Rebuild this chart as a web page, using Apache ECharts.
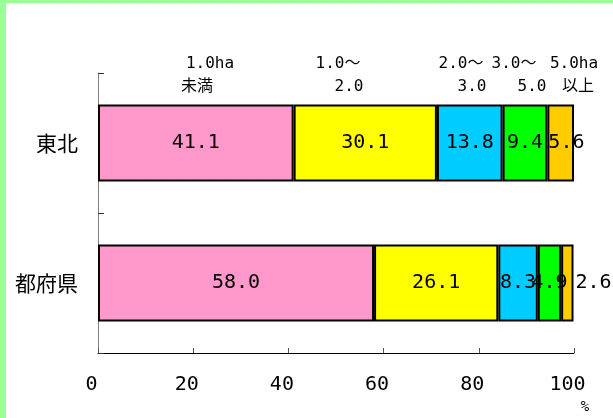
<!DOCTYPE html>
<html>
<head>
<meta charset="utf-8">
<script src="https://cdn.jsdelivr.net/npm/echarts@6/dist/echarts.min.js"></script>
<style>
  html, body { margin: 0; padding: 0; background: #fff; }
  #chart { width: 613px; height: 418px; }
</style>
</head>
<body>
<div id="chart"></div>
<script>
// Farm size distribution (share of farms, %) by region
const categories = ['東北', '都府県'];
const classNames = ['1.0ha未満', '1.0～2.0', '2.0～3.0', '3.0～5.0', '5.0ha以上'];
const under1ha = [41.1, 58.0];
const from1to2 = [30.1, 26.1];
const from2to3 = [13.8, 8.3];
const from3to5 = [9.4, 4.9];
const over5ha = [5.6, 2.6];
const axisMin = 0;
const axisMax = 100;
const axisStep = 20;
const headerTop = ['1.0ha', '1.0～', '2.0～', '3.0～', '5.0ha'];
const headerBottom = ['未満', '2.0', '3.0', '5.0', '以上'];
const unitLabel = '%';

// styling / layout
const segColors = ['#FF99CC', '#FFFF00', '#00CCFF', '#00FF00', '#FFCC00'];
const monoFont = "'DejaVu Sans Mono', 'Noto Sans CJK JP', monospace";
const cjkFont = "'Noto Sans CJK JP', sans-serif";
const headerTopX = [210, 338, 461, 514, 574];
const headerBottomX = [197, 349, 472, 532, 578];

const seriesValues = [under1ha, from1to2, from2to3, from3to5, over5ha];

// per-bar label placement for the narrow segments at the end of each bar
function labelFor(seriesIdx, catIdx) {
  if (seriesIdx === 4 && catIdx === 0) return { position: 'insideLeft', distance: 1 };
  if (seriesIdx === 4 && catIdx === 1) return { position: 'right', distance: 2 };
  return null;
}

const series = seriesValues.map((vals, si) => ({
  name: classNames[si],
  type: 'bar',
  stack: 'total',
  barWidth: 77,
  itemStyle: { color: segColors[si], borderColor: '#000', borderWidth: 2 },
  label: {
    show: true,
    position: 'inside',
    color: '#000',
    fontFamily: monoFont,
    fontSize: 20,
    formatter: p => p.value.toFixed(1)
  },
  emphasis: { disabled: true },
  data: vals.map((v, ci) => {
    const lab = labelFor(si, ci);
    return lab ? { value: v, label: lab } : v;
  })
}));

const graphics = [
  { type: 'rect', shape: { x: 0, y: 0, width: 613, height: 3.5 }, style: { fill: '#99FF99' }, silent: true },
  { type: 'rect', shape: { x: 0, y: 0, width: 6, height: 418 }, style: { fill: '#99FF99' }, silent: true }
];
headerTop.forEach((t, i) => graphics.push({
  type: 'text', x: headerTopX[i], y: 63.5, silent: true,
  style: { text: t, fill: '#000', font: '16px ' + monoFont, textAlign: 'center', textVerticalAlign: 'middle' }
}));
headerBottom.forEach((t, i) => graphics.push({
  type: 'text', x: headerBottomX[i], y: 87, silent: true,
  style: { text: t, fill: '#000', font: '16px ' + monoFont, textAlign: 'center', textVerticalAlign: 'middle' }
}));
graphics.push({
  type: 'text', x: 585, y: 407, silent: true,
  style: { text: unitLabel, fill: '#000', font: '14px ' + monoFont, textAlign: 'center', textVerticalAlign: 'middle' }
});

const chart = echarts.init(document.getElementById('chart'), null, { renderer: 'canvas' });
chart.setOption({
  animation: false,
  backgroundColor: '#fff',
  grid: { left: 98, right: 39, top: 73, bottom: 65, containLabel: false, outerBoundsMode: 'none' },
  xAxis: {
    type: 'value',
    min: axisMin,
    max: axisMax,
    interval: axisStep,
    axisLine: { show: true, lineStyle: { color: '#000', width: 1 } },
    axisTick: { show: true, inside: true, length: 5, lineStyle: { color: '#555' } },
    splitLine: { show: false },
    axisLabel: {
      color: '#000', fontFamily: monoFont, fontSize: 20, margin: 22,
      padding: [0, 13, 0, 0]
    }
  },
  yAxis: {
    type: 'category',
    data: categories,
    inverse: true,
    axisLine: { show: true, lineStyle: { color: '#808080', width: 1 } },
    axisTick: { show: true, inside: true, length: 6, lineStyle: { color: '#333' } },
    axisLabel: { color: '#000', fontFamily: cjkFont, fontSize: 21, margin: 20 }
  },
  series: series,
  graphic: graphics
});
</script>
</body>
</html>
